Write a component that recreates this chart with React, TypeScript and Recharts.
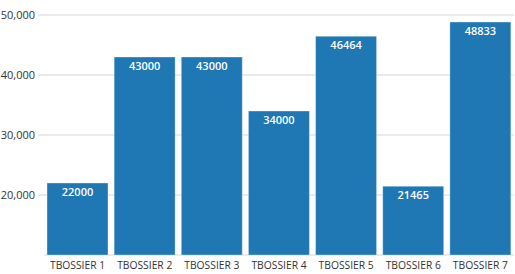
import React from "react";
import { BarChart, Bar, XAxis, YAxis, CartesianGrid, LabelList } from "recharts";

const categories = ["TBOSSIER 1", "TBOSSIER 2", "TBOSSIER 3", "TBOSSIER 4", "TBOSSIER 5", "TBOSSIER 6", "TBOSSIER 7"];
const values = [22000, 43000, 43000, 34000, 46464, 21465, 48833];
const yTicks = [20000, 30000, 40000, 50000];

const data = categories.map((name, i) => ({ name, value: values[i] }));

const FONT = "'Open Sans', 'Noto Sans', sans-serif";

export default function App() {
  return (
    <div style={{ position: "absolute", left: 0, top: 0, width: 515, height: 274, background: "#fff" }}>
      <BarChart
        width={515}
        height={274}
        data={data}
        margin={{ top: 15, right: 1, bottom: 0, left: 0 }}
        barCategoryGap={3}
      >
        <CartesianGrid vertical={false} stroke="#e3e3e3" strokeWidth={1.5} />
        <XAxis
          dataKey="name"
          axisLine={false}
          tickLine={false}
          height={19}
          tickMargin={1}
          interval={0}
          tick={{ fontSize: 10.3, fill: "#333", fontFamily: FONT }}
        />
        <YAxis
          domain={[10000, 50000]}
          ticks={yTicks}
          width={44}
          axisLine={false}
          tickLine={{ stroke: "#e3e3e3", strokeWidth: 1.5 }}
          tickSize={6}
          tickMargin={3}
          tickFormatter={(v: number) => v.toLocaleString("en-US")}
          tick={{ fontSize: 11, fill: "#333", fontFamily: FONT }}
        />
        <Bar dataKey="value" fill="#1f77b4" stroke="rgba(255,255,255,0.35)" strokeWidth={1} isAnimationActive={false}>
          <LabelList
            dataKey="value"
            position="insideTop"
            offset={5}
            style={{ fill: "#fff", fontSize: 11, fontWeight: 600, fontFamily: FONT }}
          />
        </Bar>
      </BarChart>
    </div>
  );
}
